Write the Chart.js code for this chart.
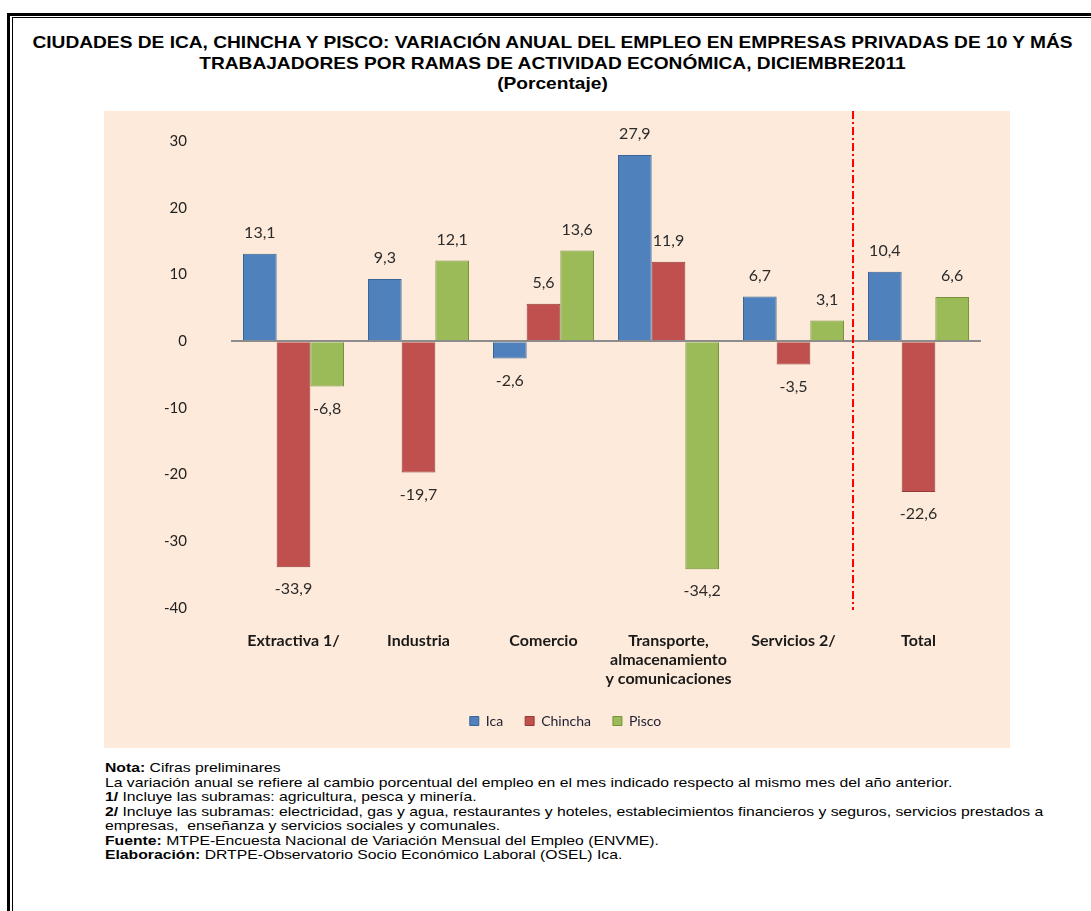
<!DOCTYPE html>
<html>
<head>
<meta charset="utf-8">
<script src="https://cdn.jsdelivr.net/npm/chart.js@4.4.1/dist/chart.umd.min.js"></script>
<style>
  body { margin: 0; background: #fff; width: 1091px; height: 911px; overflow: hidden; position: relative; font-family: "Liberation Sans", Arial, sans-serif; color: #000; }
  .marco1 { position: absolute; left: 7px; top: 13px; width: 1200px; height: 1000px; border: 3px solid #000; }
  .marco2 { position: absolute; left: 12px; top: 17px; width: 1200px; height: 1000px; border: 1px solid #000; }
  #titulo { position: absolute; left: 13px; width: 1083px; top: 32px; text-align: center; font-weight: bold; font-size: 16.5px; line-height: 20.5px; white-space: nowrap; transform: scaleX(1.16); transform-origin: 554px 0; }
  #lienzo { position: absolute; left: 104px; top: 111px; width: 906px; height: 637px; background: #fdeada; }
  #notas { position: absolute; left: 105px; top: 761px; font-size: 13px; line-height: 14.5px; white-space: nowrap; transform: scaleX(1.21); transform-origin: 0 0; }
</style>
</head>
<body>
<div class="marco1"></div>
<div class="marco2"></div>
<div id="titulo">CIUDADES DE ICA, CHINCHA Y PISCO: VARIACIÓN ANUAL DEL EMPLEO EN EMPRESAS PRIVADAS DE 10 Y MÁS<br>TRABAJADORES POR RAMAS DE ACTIVIDAD ECONÓMICA, DICIEMBRE2011<br>(Porcentaje)</div>
<div id="lienzo"><canvas id="chart" width="906" height="637"></canvas></div>
<div id="notas">
<b>Nota:</b> Cifras preliminares<br>
La variación anual se refiere al cambio porcentual del empleo en el mes indicado respecto al mismo mes del año anterior.<br>
<b>1/</b> Incluye las subramas: agricultura, pesca y minería.<br>
<b>2/</b> Incluye las subramas: electricidad, gas y agua, restaurantes y hoteles, establecimientos financieros y seguros, servicios prestados a<br>
empresas,&nbsp; enseñanza y servicios sociales y comunales.<br>
<b>Fuente:</b> MTPE-Encuesta Nacional de Variación Mensual del Empleo (ENVME).<br>
<b>Elaboración:</b> DRTPE-Observatorio Socio Económico Laboral (OSEL) Ica.
</div>
<script>
const ramas = ['Extractiva 1/', 'Industria', 'Comercio', ['Transporte,', 'almacenamiento', 'y comunicaciones'], 'Servicios 2/', 'Total']
const ica = [13.1, 9.3, -2.6, 27.9, 6.7, 10.4]
const chincha = [-33.9, -19.7, 5.6, 11.9, -3.5, -22.6]
const pisco = [-6.8, 12.1, 13.6, -34.2, 3.1, 6.6]
const ejeMin = -40
const ejeMax = 30
const paso = 10

// etiquetas de valor sobre / bajo cada barra
const etiquetas = {
    id: 'etiquetas',
    afterDatasetsDraw(chart) {
        const ctx = chart.ctx
        ctx.save()
        ctx.font = '16px Lato'
        ctx.fillStyle = '#2b2b2b'
        ctx.textAlign = 'center'
        ctx.textBaseline = 'middle'
        chart.data.datasets.forEach((ds, i) => {
            chart.getDatasetMeta(i).data.forEach((bar, j) => {
                const v = ds.data[j]
                const y = v >= 0 ? bar.y - 21 : bar.y + 22
                ctx.fillText(v.toFixed(1).replace('.', ','), bar.x, y)
            })
        })
        ctx.restore()
    }
}

// linea roja punto-raya antes de Total
const separador = {
    id: 'separador',
    afterLayout(chart) {
        // la leyenda va un poco a la derecha, como en el original
        chart.legend.left += 23
        chart.legend.right += 23
    },
    afterDraw(chart) {
        const x = chart.scales.x
        const xPos = (x.getPixelForValue(4) + x.getPixelForValue(5)) / 2 - 3
        const ctx = chart.ctx
        ctx.save()
        ctx.strokeStyle = '#ff0000'
        ctx.lineWidth = 2
        ctx.setLineDash([8, 3, 2, 3])
        ctx.beginPath()
        ctx.moveTo(xPos, 0)
        ctx.lineTo(xPos, chart.chartArea.bottom + 2)
        ctx.stroke()
        ctx.restore()
    }
}

const chart = document.querySelector('#chart').getContext('2d')

new Chart(chart, {
    type: 'bar',
    data: {
        labels: ramas,
        datasets: [
            { label: 'Ica', data: ica, backgroundColor: '#4f81bd', borderColor: '#3b6496', borderWidth: 1 },
            { label: 'Chincha', data: chincha, backgroundColor: '#c0504d', borderColor: '#953b39', borderWidth: 1 },
            { label: 'Pisco', data: pisco, backgroundColor: '#9bbb59', borderColor: '#76923c', borderWidth: 1 }
        ]
    },
    options: {
        responsive: false,
        animation: false,
        categoryPercentage: 0.808,
        barPercentage: 1,
        layout: { padding: { left: 0, right: 29, top: 30, bottom: 10 } },
        plugins: {
            legend: {
                position: 'bottom',
                labels: { boxWidth: 9, boxHeight: 9, padding: 22, color: '#1f1f33', font: { family: 'Lato', size: 14 } }
            },
            tooltip: { enabled: false }
        },
        scales: {
            x: {
                grid: { display: false },
                border: { display: false },
                ticks: { color: '#1a1a1a', padding: 15, maxRotation: 0, autoSkip: false, font: { family: 'Lato', size: 16, weight: 'bold', lineHeight: '19px' } },
                afterFit: (s) => { s.height = 84 }
            },
            y: {
                min: ejeMin,
                max: ejeMax,
                border: { display: false },
                grid: {
                    drawTicks: false,
                    color: (c) => c.tick && c.tick.value === 0 ? '#8c8c8c' : 'rgba(0,0,0,0)',
                    lineWidth: (c) => c.tick && c.tick.value === 0 ? 2 : 0
                },
                ticks: { stepSize: paso, padding: 44, color: '#222222', font: { family: 'Lato', size: 15 } },
                afterFit: (s) => {
                    s.width = 127
                    s.paddingTop = 10
                    s.paddingBottom = 10
                }
            }
        }
    },
    plugins: [etiquetas, separador]
})
</script>
</body>
</html>
